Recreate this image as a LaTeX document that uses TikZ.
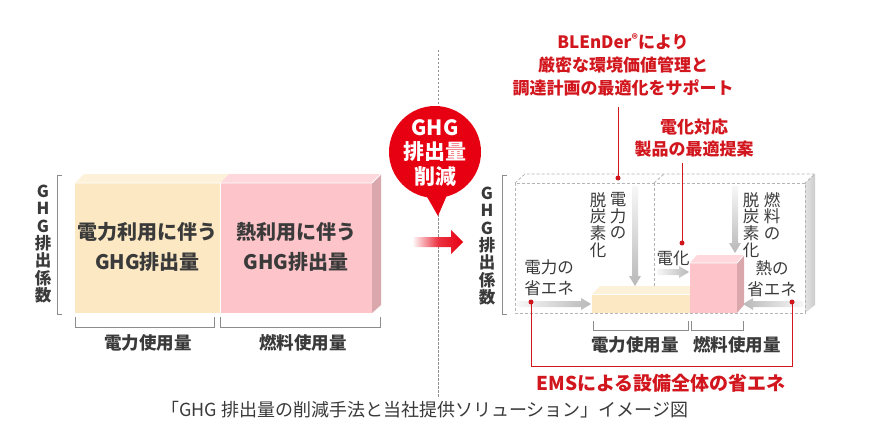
\documentclass[tikz,border=0pt]{standalone}
\usepackage{fontspec}
\setmainfont{Noto Sans CJK JP}
\usetikzlibrary{arrows.meta}
\definecolor{ghgred}{HTML}{E60012}
\definecolor{txtred}{HTML}{D2161E}
\definecolor{txtgray}{HTML}{3A3A3A}
\definecolor{ylw}{HTML}{FCE8C3}
\definecolor{ylwtop}{HTML}{FDF1DA}
\definecolor{pnk}{HTML}{FDC4C9}
\definecolor{pnktop}{HTML}{FED8DC}
\definecolor{pnkside}{HTML}{D9A7AC}
\definecolor{brk}{HTML}{8C8C8C}
\definecolor{dsh}{HTML}{B4B4B4}
\tikzset{
  blocktext/.style={text=txtgray, font=\bfseries\fontsize{20}{30}\selectfont, align=center, inner sep=0pt},
  uselabel/.style={text=txtgray, font=\bfseries\fontsize{17.5}{20}\selectfont, inner sep=0pt},
  smalltext/.style={text=txtgray, font=\fontsize{16.5}{21}\selectfont, align=center, inner sep=0pt},
  vtext/.style={text=txtgray, font=\fontsize{16.5}{16.7}\selectfont, align=center, inner sep=0pt, anchor=north},
  axistext/.style={text=txtgray, font=\bfseries\fontsize{16.5}{17.4}\selectfont, align=center, inner sep=0pt},
  redtext/.style={text=txtred, font=\bfseries\fontsize{17}{23}\selectfont, align=center, inner sep=0pt},
  bracketline/.style={draw=brk, line width=0.9pt},
  redline/.style={draw=txtred, line width=1pt},
  reddot/.style={circle, fill=txtred, inner sep=0pt, minimum size=5pt},
  boxdash/.style={draw=dsh, line width=0.8pt, densely dashed},
}
\begin{document}
\begin{tikzpicture}[x=1pt,y=-1pt]
\useasboundingbox[fill=white] (0,0) rectangle (877,441);

% ---------- divider ----------
\coordinate (divtop) at (438,50);
\coordinate (divbot) at (438,398);
\draw[draw=dsh!80!black, line width=1pt, dash pattern=on 2.5pt off 1.5pt] (divtop) -- (divbot);

% ---------- left block ----------
\fill[ylwtop] (75,183) -- (84,174) -- (229,174) -- (220,183) -- cycle;
\fill[pnktop] (220,183) -- (229,174) -- (381,174) -- (372,183) -- cycle;
\fill[pnkside] (372,183) -- (381,174) -- (381,305) -- (372,313) -- cycle;
\node[fill=ylw, minimum width=145pt, minimum height=130pt, anchor=north west, inner sep=0pt] (eblk) at (75,183) {};
\node[fill=pnk, minimum width=152pt, minimum height=130pt, anchor=north west, inner sep=0pt] (hblk) at (220,183) {};
\draw[white, line width=0.8pt] (75,183) -- (372,183) -- (381,174);
\draw[white, line width=0.6pt] (220,183) -- (220,313);
\node[blocktext] (etext) at (147.5,247) {電力利用に伴う\\GHG排出量};
\node[blocktext] (htext) at (296,247) {熱利用に伴う\\GHG排出量};

% left axis bracket
\coordinate (lbt) at (62,175);
\coordinate (lbb) at (62,314);
\draw[bracketline] (lbt) -- (57,175) -- (57,314) -- (lbb);
\node[axistext] (laxis) at (43,244) {G\\H\\G\\排\\出\\係\\数};

% bottom brackets left
\draw[bracketline] (75,317) -- (75,327) -- (214,327) -- (214,317);
\draw[bracketline] (220,317) -- (220,327) -- (380,327) -- (380,317);
\node[uselabel] (leuse) at (148,343) {電力使用量};
\node[uselabel] (lfuse) at (303,343) {燃料使用量};

% ---------- red circle ----------
\fill[ghgred] (435,152) circle (46pt);
\fill[ghgred] (422,188) -- (438,216) -- (450,188) -- cycle;
\node[text=white, font=\bfseries\fontsize{21}{24.5}\selectfont, align=center, inner sep=0pt] (circ) at (435,153) {GHG\\排出量\\削減};

% red arrow
\shade[left color=ghgred!3, right color=ghgred, middle color=ghgred!80]
  (413,237) -- (451,237) -- (451,230) -- (463,242) -- (451,254) -- (451,247) -- (413,247) -- cycle;

% ---------- right dashed box ----------
\shade[left color=gray!22, right color=gray!40] (805,183) -- (815,174) -- (815,305) -- (805,313) -- cycle;
\draw[boxdash] (515,183) rectangle (805,313);
\draw[boxdash] (515,183) -- (525,174) -- (815,174) -- (805,183);
\draw[boxdash] (654,183) -- (654,313);
\draw[boxdash] (654,183) -- (664,174);

% right axis bracket
\draw[bracketline] (507,175) -- (502,175) -- (502,314) -- (507,314);
\node[axistext] (raxis) at (487,246) {G\\H\\G\\排\\出\\係\\数};

% small blocks
\fill[ylwtop] (592,294) -- (600,286) -- (698,286) -- (690,294) -- cycle;
\node[fill=ylw, minimum width=98pt, minimum height=19pt, anchor=north west, inner sep=0pt] (eblk2) at (592,294) {};
\draw[white, line width=0.8pt] (592,294) -- (690,294);
\fill[pnktop] (690,263) -- (697,255) -- (744,255) -- (737,263) -- cycle;
\fill[pnkside] (737,263) -- (744,255) -- (744,305) -- (737,313) -- cycle;
\node[fill=pnk, minimum width=47pt, minimum height=50pt, anchor=north west, inner sep=0pt] (hblk2) at (690,263) {};
\draw[white, line width=0.8pt] (690,263) -- (737,263) -- (744,255);

% gray arrows
\shade[left color=gray!6, right color=gray!55]
  (517,301) -- (581,301) -- (581,298) -- (591,304) -- (581,310) -- (581,307) -- (517,307) -- cycle;
\shade[top color=gray!6, bottom color=gray!55]
  (632,186) -- (632,276) -- (629,276) -- (635,286) -- (641,276) -- (638,276) -- (638,186) -- cycle;
\shade[left color=gray!6, right color=gray!55]
  (657,269) -- (679,269) -- (679,266) -- (689,272) -- (679,278) -- (679,275) -- (657,275) -- cycle;
\shade[top color=gray!6, bottom color=gray!55]
  (732,186) -- (732,243) -- (729,243) -- (735,253) -- (741,243) -- (738,243) -- (738,186) -- cycle;
\shade[right color=gray!6, left color=gray!55]
  (803,301) -- (753,301) -- (753,298) -- (743,304) -- (753,310) -- (753,307) -- (803,307) -- cycle;

% right small texts
\node[smalltext] (esave) at (549,278) {電力の\\省エネ};
\node[vtext] (edc1) at (618,192) {電\\力\\の};
\node[vtext] (edc2) at (598,192) {脱\\炭\\素\\化};
\node[smalltext] (elec) at (673,258) {電化};
\node[vtext] (fdc1) at (772,192) {燃\\料\\の};
\node[vtext] (fdc2) at (751,192) {脱\\炭\\素\\化};
\node[smalltext] (hsave) at (772,279) {熱の\\省エネ};

% bottom brackets right
\draw[bracketline] (593,321) -- (593,330) -- (688,330) -- (688,321);
\draw[bracketline] (691,321) -- (691,330) -- (743,330) -- (743,321);
\node[uselabel] (reuse) at (635,345) {電力使用量};
\node[uselabel] (rfuse) at (737,345) {燃料使用量};

% red annotations
\node[redtext] (blender) at (623,65) {BLEnDer{\fontsize{12}{12}\selectfont\raisebox{4.5pt}{®}}により\\厳密な環境価値管理と\\調達計画の最適化をサポート};
\node[redtext, font=\bfseries\fontsize{17}{21.6}\selectfont] (prop) at (694,138) {電化対応\\製品の最適提案};
\node[redtext, font=\bfseries\fontsize{19}{22}\selectfont] (ems) at (661,383) {EMSによる設備全体の省エネ};

\node[reddot] (d1) at (618,178) {};
\node[reddot] (d2) at (682,243) {};
\node[reddot] (d3) at (531,302) {};
\node[reddot] (d4) at (792,302) {};
\coordinate (t1) at (618,107);
\coordinate (t2) at (682,163);
\draw[redline] (d1.center) -- (t1);
\draw[redline] (d2.center) -- (t2);
\draw[redline] (d3.center) -- (531,366) -- (792,366) -- (d4.center);

% caption
\node[text=txtgray, font=\fontsize{18}{20}\selectfont, inner sep=0pt, anchor=west] (cap) at (161,410) {「GHG 排出量の削減手法と当社提供ソリューション」イメージ図};
\end{tikzpicture}
\end{document}
